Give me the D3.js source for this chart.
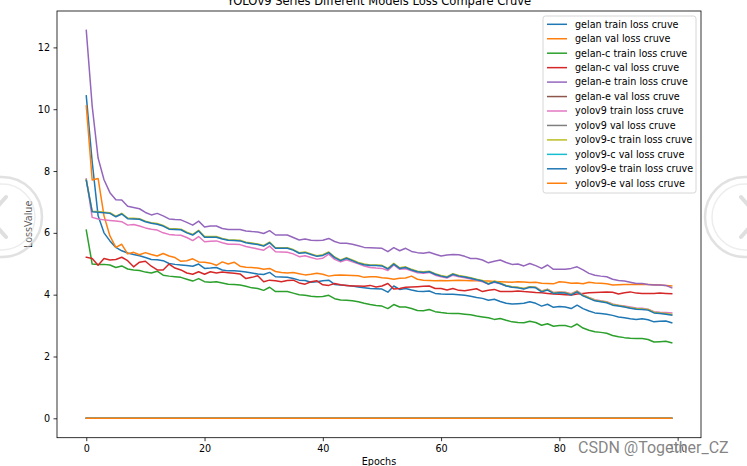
<!DOCTYPE html>
<html>
<head>
<meta charset="utf-8">
<script src="https://cdn.jsdelivr.net/npm/d3@7"></script>
<style>
  body { margin: 0; background: #fff; overflow: hidden; }
  svg { display: block; font-family: "DejaVu Sans", sans-serif; }
</style>
</head>
<body>
<div id="chart"></div>
<script>
// loss values per epoch (0..99)
const gelanTrain = [
  10.43, 8.3, 6.55, 6.0, 5.74, 5.53, 5.42, 5.35, 5.3, 5.26,
  5.2, 5.14, 5.13, 5.1, 5.01, 4.98, 4.96, 4.94, 4.92, 4.99,
  4.85, 4.86, 4.88, 4.8, 4.77, 4.77, 4.76, 4.73, 4.7, 4.67,
  4.65, 4.72, 4.58, 4.57, 4.56, 4.52, 4.47, 4.46, 4.4, 4.42,
  4.45, 4.47, 4.33, 4.31, 4.3, 4.28, 4.25, 4.22, 4.2, 4.19,
  4.18, 4.08, 4.28, 4.17, 4.2, 4.15, 4.11, 4.1, 4.12, 4.04,
  4.02, 4.01, 4.01, 4.0, 3.98, 3.95, 3.91, 3.88, 3.82, 3.85,
  3.78, 3.72, 3.7, 3.71, 3.72, 3.77, 3.72, 3.63, 3.69, 3.59,
  3.62, 3.6, 3.55, 3.66, 3.55, 3.47, 3.41, 3.39, 3.37, 3.33,
  3.28, 3.25, 3.22, 3.2, 3.22, 3.19, 3.12, 3.14, 3.15, 3.09
]
const gelanVal = [
  10.11, 7.71, 7.76, 6.55, 5.9, 5.53, 5.63, 5.32, 5.37, 5.29,
  5.36, 5.3, 5.25, 5.33, 5.25, 5.2, 5.08, 5.1, 5.16, 5.06,
  5.05, 5.02, 4.95, 5.06, 4.99, 5.05, 4.92, 4.89, 4.88, 4.86,
  4.82, 4.85, 4.75, 4.72, 4.7, 4.72, 4.68, 4.64, 4.66, 4.69,
  4.66, 4.6, 4.63, 4.64, 4.63, 4.62, 4.61, 4.56, 4.58, 4.58,
  4.55, 4.53, 4.5, 4.53, 4.54, 4.6, 4.5, 4.47, 4.46, 4.45,
  4.46, 4.45, 4.46, 4.47, 4.46, 4.45, 4.45, 4.44, 4.44, 4.43,
  4.42, 4.41, 4.4, 4.42, 4.41, 4.39, 4.4, 4.37, 4.36, 4.35,
  4.42, 4.4, 4.37, 4.38, 4.35, 4.4, 4.38, 4.37, 4.35, 4.31,
  4.32, 4.33, 4.33, 4.34, 4.33, 4.33, 4.32, 4.31, 4.3, 4.28
]
const gelanCTrain = [
  6.09, 4.99, 4.98, 4.98, 4.96, 4.88, 4.93, 4.83, 4.8, 4.78,
  4.73, 4.7, 4.76, 4.63, 4.6, 4.58, 4.56, 4.5, 4.44, 4.52,
  4.42, 4.4, 4.42, 4.38, 4.34, 4.33, 4.31, 4.27, 4.22, 4.2,
  4.14, 4.24, 4.1, 4.1, 4.1, 4.05, 4.0, 3.98, 3.95, 3.93,
  3.94, 3.98, 3.87, 3.83, 3.82, 3.8, 3.77, 3.72, 3.68, 3.65,
  3.63, 3.55, 3.68, 3.6, 3.6, 3.55, 3.49, 3.48, 3.52, 3.45,
  3.42, 3.4, 3.39, 3.39, 3.37, 3.35, 3.31, 3.28, 3.25, 3.2,
  3.23, 3.17, 3.12, 3.1, 3.09, 3.14, 3.1, 3.01, 3.06, 2.98,
  3.0, 3.0, 2.95, 3.05, 2.92, 2.85, 2.8, 2.78, 2.75, 2.68,
  2.64, 2.61, 2.59, 2.58, 2.58, 2.55, 2.47, 2.48, 2.49, 2.44
]
const gelanCVal = [
  5.21, 5.17, 4.95, 5.17, 5.12, 5.14, 5.21, 5.1, 4.9, 5.05,
  5.08, 4.92, 4.8, 4.8, 4.99, 4.86, 4.8, 4.7, 4.66, 4.74,
  4.66, 4.74, 4.7, 4.73, 4.71, 4.69, 4.67, 4.52, 4.56, 4.61,
  4.42, 4.47, 4.45, 4.42, 4.46, 4.47, 4.38, 4.34, 4.42, 4.45,
  4.32, 4.3, 4.36, 4.32, 4.3, 4.28, 4.28, 4.27, 4.3, 4.25,
  4.28, 4.36, 4.18, 4.2, 4.24, 4.25, 4.26, 4.27, 4.28, 4.2,
  4.2, 4.15, 4.2, 4.14, 4.13, 4.16, 4.19, 4.1, 4.14, 4.17,
  4.1, 4.1, 4.1, 4.12, 4.1, 4.09, 4.07, 4.06, 4.04, 4.02,
  4.01, 4.0, 3.99, 4.02, 4.04, 4.06, 4.07, 4.08, 4.09, 4.08,
  4.02, 4.06, 4.09, 4.05, 4.04, 4.04, 4.04, 4.05, 4.04, 4.03
]
const gelanETrain = [
  12.55, 10.1, 8.42, 7.72, 7.3, 7.07, 7.06, 6.86, 6.82, 6.78,
  6.66, 6.58, 6.63, 6.55, 6.45, 6.43, 6.42, 6.34, 6.25, 6.38,
  6.19, 6.22, 6.22, 6.14, 6.11, 6.11, 6.11, 6.06, 6.04, 6.03,
  5.98, 6.07, 5.93, 5.93, 5.93, 5.85, 5.77, 5.8, 5.76, 5.75,
  5.76, 5.82, 5.72, 5.66, 5.66, 5.63, 5.58, 5.53, 5.52, 5.51,
  5.5, 5.39, 5.52, 5.42, 5.5, 5.4, 5.36, 5.34, 5.37, 5.31,
  5.25, 5.28, 5.3, 5.29, 5.24, 5.17, 5.17, 5.12, 5.03, 5.08,
  5.12, 5.04, 4.98, 4.99, 4.93, 5.01, 4.94, 4.85, 4.96, 4.82,
  4.82, 4.82, 4.85, 4.9, 4.8, 4.69, 4.63, 4.6, 4.58, 4.5,
  4.46, 4.44, 4.4, 4.36, 4.36, 4.33, 4.31, 4.31, 4.3, 4.22
]
const yolov9Train = [
  7.75, 6.5, 6.45, 6.42, 6.4, 6.38, 6.36, 6.25, 6.27, 6.22,
  6.16, 6.12, 6.09, 6.0, 5.95, 5.93, 5.92, 5.85, 5.75, 5.88,
  5.71, 5.73, 5.74, 5.68, 5.63, 5.63, 5.62, 5.56, 5.52, 5.48,
  5.44, 5.57, 5.39, 5.38, 5.37, 5.32, 5.23, 5.26, 5.2, 5.15,
  5.18, 5.31, 5.14, 5.06, 5.13, 5.06, 5.0, 4.93, 4.88, 4.86,
  4.85, 4.78, 4.96, 4.82, 4.84, 4.77, 4.71, 4.69, 4.72, 4.63,
  4.58, 4.54, 4.63, 4.58, 4.55, 4.51, 4.47, 4.42, 4.34, 4.4,
  4.35, 4.29, 4.25, 4.23, 4.2, 4.26, 4.24, 4.12, 4.18, 4.07,
  4.09, 4.08, 4.03, 4.12, 3.99, 3.91, 3.84, 3.8, 3.77, 3.7,
  3.66, 3.63, 3.6, 3.57, 3.56, 3.53, 3.45, 3.43, 3.42, 3.41
]
// sits just under the yolov9-e train line, only its edge shows
const yolov9CTrain = [
  7.72, 6.7, 6.69, 6.67, 6.65, 6.54, 6.63, 6.48, 6.47, 6.46,
  6.38, 6.33, 6.3, 6.24, 6.14, 6.13, 6.12, 6.02, 5.95, 6.08,
  5.88, 5.88, 5.88, 5.82, 5.78, 5.77, 5.76, 5.7, 5.67, 5.64,
  5.59, 5.7, 5.52, 5.52, 5.52, 5.46, 5.36, 5.38, 5.32, 5.26,
  5.29, 5.38, 5.22, 5.12, 5.2, 5.12, 5.04, 4.99, 4.96, 4.96,
  4.95, 4.85, 5.01, 4.87, 4.9, 4.82, 4.76, 4.74, 4.76, 4.68,
  4.62, 4.58, 4.68, 4.62, 4.59, 4.55, 4.5, 4.46, 4.36, 4.44,
  4.38, 4.3, 4.26, 4.24, 4.2, 4.26, 4.24, 4.11, 4.17, 4.06,
  4.08, 4.07, 4.01, 4.11, 3.98, 3.9, 3.82, 3.79, 3.76, 3.68,
  3.65, 3.62, 3.58, 3.55, 3.54, 3.52, 3.43, 3.41, 3.39, 3.36
]
const yolov9ETrain = [
  7.7, 6.68, 6.67, 6.65, 6.63, 6.52, 6.61, 6.46, 6.45, 6.44,
  6.36, 6.31, 6.28, 6.22, 6.12, 6.11, 6.1, 6.0, 5.93, 6.06,
  5.86, 5.86, 5.86, 5.8, 5.76, 5.75, 5.74, 5.68, 5.65, 5.62,
  5.57, 5.68, 5.5, 5.5, 5.5, 5.44, 5.34, 5.36, 5.3, 5.24,
  5.27, 5.36, 5.2, 5.1, 5.18, 5.1, 5.02, 4.97, 4.94, 4.94,
  4.93, 4.83, 4.99, 4.85, 4.88, 4.8, 4.74, 4.72, 4.74, 4.66,
  4.6, 4.56, 4.66, 4.6, 4.57, 4.53, 4.48, 4.44, 4.34, 4.42,
  4.36, 4.28, 4.24, 4.22, 4.18, 4.24, 4.22, 4.09, 4.15, 4.04,
  4.06, 4.05, 3.99, 4.09, 3.96, 3.88, 3.8, 3.77, 3.74, 3.66,
  3.63, 3.6, 3.56, 3.53, 3.52, 3.5, 3.41, 3.39, 3.37, 3.34
]
// runs with no logged values sit flat on zero
const zeroLoss = [
  0, 0, 0, 0, 0, 0, 0, 0, 0, 0,
  0, 0, 0, 0, 0, 0, 0, 0, 0, 0,
  0, 0, 0, 0, 0, 0, 0, 0, 0, 0,
  0, 0, 0, 0, 0, 0, 0, 0, 0, 0,
  0, 0, 0, 0, 0, 0, 0, 0, 0, 0,
  0, 0, 0, 0, 0, 0, 0, 0, 0, 0,
  0, 0, 0, 0, 0, 0, 0, 0, 0, 0,
  0, 0, 0, 0, 0, 0, 0, 0, 0, 0,
  0, 0, 0, 0, 0, 0, 0, 0, 0, 0,
  0, 0, 0, 0, 0, 0, 0, 0, 0, 0
]

const seriesNames = [
  'gelan train loss cruve', 'gelan val loss cruve',
  'gelan-c train loss cruve', 'gelan-c val loss cruve',
  'gelan-e train loss cruve', 'gelan-e val loss cruve',
  'yolov9 train loss cruve', 'yolov9 val loss cruve',
  'yolov9-c train loss cruve', 'yolov9-c val loss cruve',
  'yolov9-e train loss cruve', 'yolov9-e val loss cruve'
]
const seriesValues = [
  gelanTrain, gelanVal, gelanCTrain, gelanCVal, gelanETrain, zeroLoss,
  yolov9Train, zeroLoss, yolov9CTrain, zeroLoss, yolov9ETrain, zeroLoss
]
const xTicks = [0, 20, 40, 60, 80, 100]
const yTicks = [0, 2, 4, 6, 8, 10, 12]

const titleText = 'YOLOv9 Series Different Models Loss Compare Cruve'
const xLabel = 'Epochs'
const yLabel = 'LossValue'

const width = 747
const height = 466
const margin = {top: 11, right: 46, bottom: 28.3, left: 57}
const fontSize = 9.6
const color = d3.scaleOrdinal(d3.schemeCategory10)

const series = seriesNames.map((name, i) => ({
  name,
  color: color(i % 10),
  values: seriesValues[i].map((v, ep) => ({ep, v}))
}))

const svg = d3.select('#chart')
  .append('svg')
  .attr('width', width)
  .attr('height', height)

const innerW = width - margin.left - margin.right
const innerH = height - margin.top - margin.bottom

// matplotlib style 5% padding on both axes
const xExt = [0, d3.max(series, s => s.values.length - 1)]
const yExt = [d3.min(seriesValues, a => d3.min(a)), d3.max(seriesValues, a => d3.max(a))]
const xPad = (xExt[1] - xExt[0]) * 0.05
const yPad = (yExt[1] - yExt[0]) * 0.05

const x = d3.scaleLinear()
  .domain([xExt[0] - xPad, xExt[1] + xPad])
  .range([margin.left, margin.left + innerW])
const y = d3.scaleLinear()
  .domain([yExt[0] - yPad, yExt[1] + yPad])
  .range([margin.top + innerH, margin.top])

svg.append('defs').append('clipPath')
  .attr('id', 'plot-clip')
  .append('rect')
  .attr('x', margin.left).attr('y', margin.top)
  .attr('width', innerW).attr('height', innerH)

// lines
const line = d3.line()
  .x(d => x(d.ep))
  .y(d => y(d.v))

svg.append('g')
  .attr('class', 'lines')
  .attr('clip-path', 'url(#plot-clip)')
  .selectAll('path')
  .data(series)
  .join('path')
  .attr('d', d => line(d.values))
  .attr('fill', 'none')
  .attr('stroke', d => d.color)
  .attr('stroke-width', 1.5)
  .attr('stroke-linejoin', 'round')
  .attr('stroke-linecap', 'square')

// axes
const xAxis = svg.append('g')
  .attr('transform', `translate(0,${margin.top + innerH})`)
  .call(d3.axisBottom(x).tickValues(xTicks).tickSize(3.5).tickPadding(3.5).tickSizeOuter(0))
const yAxis = svg.append('g')
  .attr('transform', `translate(${margin.left},0)`)
  .call(d3.axisLeft(y).tickValues(yTicks).tickSize(3.5).tickPadding(3.5).tickSizeOuter(0))

;[xAxis, yAxis].forEach(ax => {
  ax.select('.domain').remove()
  ax.selectAll('.tick line').attr('stroke', '#000').attr('stroke-width', 0.8)
  ax.selectAll('.tick text')
    .attr('fill', '#000')
    .style('font-family', '"DejaVu Sans", sans-serif')
    .style('font-size', fontSize + 'px')
})

// spines
svg.append('rect')
  .attr('x', margin.left).attr('y', margin.top)
  .attr('width', innerW).attr('height', innerH)
  .attr('fill', 'none')
  .attr('stroke', '#000')
  .attr('stroke-width', 0.8)

// title and axis labels
svg.append('text')
  .attr('x', margin.left + innerW / 2)
  .attr('y', margin.top - 6)
  .attr('text-anchor', 'middle')
  .style('font-size', '11.5px')
  .text(titleText)

svg.append('text')
  .attr('x', margin.left + innerW / 2)
  .attr('y', 465)
  .attr('text-anchor', 'middle')
  .style('font-size', fontSize + 'px')
  .text(xLabel)

svg.append('text')
  .attr('transform', `translate(32,${margin.top + innerH / 2}) rotate(-90)`)
  .attr('text-anchor', 'middle')
  .style('font-size', fontSize + 'px')
  .text(yLabel)

// legend
const legend = svg.append('g')
  .attr('transform', 'translate(543,16)')
const rowH = 14.45

legend.append('rect')
  .attr('width', 153)
  .attr('height', 177)
  .attr('rx', 2.5)
  .attr('fill', 'rgba(255,255,255,0.8)')
  .attr('stroke', '#cccccc')
  .attr('stroke-width', 0.8)

const rows = legend.selectAll('g.row')
  .data(series)
  .join('g')
  .attr('class', 'row')
  .attr('transform', (d, i) => `translate(0,${8.3 + i * rowH})`)

rows.append('line')
  .attr('x1', 4).attr('x2', 24)
  .attr('stroke', d => d.color)
  .attr('stroke-width', 1.5)

rows.append('text')
  .attr('x', 32)
  .attr('dy', '0.35em')
  .style('font-size', fontSize + 'px')
  .text(d => d.name)

// page overlay: carousel buttons and watermark from the screenshot
const overlay = svg.append('g').attr('class', 'overlay')
;[{cx: 2, dir: -1}, {cx: 745, dir: 1}].forEach(b => {
  overlay.append('circle')
    .attr('cx', b.cx).attr('cy', 217).attr('r', 40)
    .attr('fill', 'rgba(255,255,255,0.35)')
    .attr('stroke', 'rgba(200,200,200,0.55)')
    .attr('stroke-width', 2.5)
  overlay.append('circle')
    .attr('cx', b.cx).attr('cy', 217).attr('r', 33)
    .attr('fill', 'none')
    .attr('stroke', 'rgba(225,225,225,0.6)')
    .attr('stroke-width', 1.5)
  overlay.append('path')
    .attr('d', `M${b.cx - b.dir * 4},197 L${b.cx + b.dir * 14},217 L${b.cx - b.dir * 4},237`)
    .attr('fill', 'none')
    .attr('stroke', 'rgba(215,215,215,0.8)')
    .attr('stroke-width', 4)
    .attr('stroke-linecap', 'round')
    .attr('stroke-linejoin', 'round')
})

overlay.append('text')
  .attr('x', 578)
  .attr('y', 453)
  .style('font-family', 'Roboto, sans-serif')
  .style('font-size', '16px')
  .attr('fill', 'rgba(110,110,110,0.85)')
  .attr('stroke', 'rgba(255,255,255,0.6)')
  .attr('stroke-width', 2)
  .attr('paint-order', 'stroke')
  .text('CSDN @Together_CZ')
</script>
</body>
</html>
